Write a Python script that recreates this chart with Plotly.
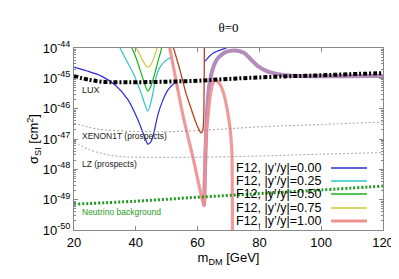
import plotly.graph_objects as go

# ---------------- data (m_DM in GeV, log10 sigma_SI in cm^2) ----------------
lux_m = [20, 25, 30, 35, 40, 50, 60, 70, 80, 90, 100, 110, 120]
lux_s = [-44.93, -45.05, -45.12, -45.13, -45.13, -45.11, -45.08, -45.02, -44.97, -44.93, -44.9, -44.86, -44.83]

x1t_m = [20, 25, 30, 40, 50, 60, 70, 80, 100, 120]
x1t_s = [-46.47, -46.62, -46.7, -46.75, -46.76, -46.72, -46.66, -46.6, -46.52, -46.44]

lz_m = [20, 25, 30, 35, 40, 60, 80, 100, 120]
lz_s = [-47.1, -47.35, -47.5, -47.58, -47.6, -47.6, -47.56, -47.5, -47.45]

nu_m = [20, 40, 60, 80, 100, 120]
nu_s = [-49.15, -49.05, -48.92, -48.8, -48.68, -48.55]

blue_m = [20, 24, 28.7, 33.3, 37.5, 40.7, 43.0, 43.9, 44.8, 45.6, 47.2, 48.8, 50.4, 52.0, 53.0, 53.6,
          None, 62.4, 65.0, 69.2, 71.0]
blue_s = [-44.63, -44.75, -44.92, -45.22, -45.71, -46.37, -46.97, -47.17, -47.1, -46.9, -46.18, -45.71, -45.38, -45.2, -45.15, -45.36,
          None, -44.43, -44.17, -44.0, -43.93]

cyan_m = [34.6, 34.9, 39.1, 41.7, 43.9, 45.2, 46.2, 47.2, 48.8, 50.4, 51.4, 52.2]
cyan_s = [-43.9, -44.0, -44.82, -45.48, -46.08, -45.65, -45.15, -44.76, -44.5, -44.36, -44.33, -44.62]

green_m = [38.2, 38.4, 40.1, 41.7, 43.0, 43.9, 44.9, 46.2, 47.2, 48.2, 48.5]
green_s = [-43.9, -43.93, -44.33, -44.82, -45.22, -45.42, -45.25, -44.82, -44.43, -44.07, -43.9]

yellow_m = [39.6, 41.0, 42.3, 43.3, 43.9, 44.6, 45.6, 46.5, 47.2]
yellow_s = [-43.9, -44.16, -44.43, -44.59, -44.63, -44.59, -44.4, -44.13, -43.9]

brown_m = [52.0, 54.3, 56.2, 57.9, 59.5, 60.5, 61.1, 61.7, 62.0, 62.2]
brown_s = [-43.93, -44.73, -45.48, -46.0, -46.47, -46.7, -46.8, -46.72, -46.2, -43.7]

mauve_m = [62.1, 62.4, 62.7, 63.0, 63.7, 65.0, 66.6, 69.2, 72.1, 75.0, 77.3, 79.5, 82.8, 88.3, 95.7, 106.4, 120]
mauve_s = [-49.2, -48.0, -47.0, -46.2, -45.3, -44.66, -44.33, -44.13, -44.08, -44.16, -44.38, -44.6, -44.78, -44.9, -44.93, -44.93, -44.92]

pink_m = [50.8, 55.3, 58.7, 62.1, 62.4, 63.0, 63.4, 64.0, 64.7, 65.6, 67.2, 68.5, 69.5, 70.5, 71.1, 71.3]
pink_s = [-43.9, -46.24, -47.7, -49.2, -47.6, -46.6, -46.24, -45.65, -45.25, -45.02, -45.19, -45.52, -45.98, -46.64, -47.46, -50.5]

legend_labels = ["F12, |y’/y|=0.00", "F12, |y’/y|=0.25", "F12, |y’/y|=0.50",
                 "F12, |y’/y|=0.75", "F12, |y’/y|=1.00"]
legend_colors = ["#2a2ad8", "#30c4c4", "#18b018", "#c8c830", "#f09090"]

y_tick_vals = [-50, -49, -48, -47, -46, -45, -44]
y_tick_text = ["10<sup>-50</sup>", "10<sup>-49</sup>", "10<sup>-48</sup>", "10<sup>-47</sup>",
               "10<sup>-46</sup>", "10<sup>-45</sup>", "10<sup>-44</sup>"]
x_tick_vals = [20, 40, 60, 80, 100, 120]

# ---------------- figure ----------------
fig = go.Figure()

def add(xs, ys, color, width, dash="solid", opacity=1.0, smooth=0.0):
    fig.add_trace(go.Scatter(
        x=xs, y=[None if v is None else 10 ** v for v in ys], mode="lines",
        line=dict(color=color, width=width, dash=dash,
                  shape="spline" if smooth else "linear", smoothing=smooth if smooth else None),
        opacity=opacity, showlegend=False, hoverinfo="skip", connectgaps=False))

add(blue_m, blue_s, legend_colors[0], 1.2, smooth=0.8)
add(cyan_m, cyan_s, legend_colors[1], 1.2, smooth=0.8)
add(green_m, green_s, legend_colors[2], 1.2, smooth=0.8)
add(yellow_m, yellow_s, legend_colors[3], 1.2, smooth=0.8)
add(brown_m, brown_s, "#b8401c", 1.3, smooth=0.6)
add(mauve_m, mauve_s, "#b48cbc", 4, smooth=0.6)
add(pink_m, pink_s, legend_colors[4], 3.2, opacity=0.9, smooth=0.5)

add(x1t_m, x1t_s, "#8a8a8a", 0.8, dash="2px,2px", smooth=1.0)
add(lz_m, lz_s, "#8a8a8a", 0.8, dash="2px,2px", smooth=1.0)
add(nu_m, nu_s, "#1f9a1f", 3, dash="2px,2px", smooth=1.0)
add(lux_m, lux_s, "#000000", 4, dash="4px,2px,2px,2px", smooth=1.0)

# custom gnuplot-style legend (text, then sample line on the right)
leg_y = [0.341, 0.269, 0.198, 0.121, 0.049]
shapes = []
annotations = []
for lab, col, yy in zip(legend_labels, legend_colors, leg_y):
    annotations.append(dict(x=0.806, y=yy, xref="paper", yref="paper", text=lab,
                            showarrow=False, xanchor="right", yanchor="middle",
                            font=dict(size=12.5, color="black")))
    shapes.append(dict(type="line", xref="paper", yref="paper", x0=0.832, x1=0.948,
                       y0=yy, y1=yy, line=dict(color=col, width=3 if col == legend_colors[4] else 1.5)))

# curve labels
annotations += [
    dict(x=22, y=-45.38, xref="x", yref="y", text="LUX", showarrow=False, xanchor="left",
         font=dict(size=9, color="#222")),
    dict(x=22, y=-46.9, xref="x", yref="y", text="XENON1T (prospects)", showarrow=False,
         xanchor="left", font=dict(size=8.5, color="#222")),
    dict(x=22, y=-47.83, xref="x", yref="y", text="LZ (prospects)", showarrow=False,
         xanchor="left", font=dict(size=8.5, color="#222")),
    dict(x=22, y=-49.4, xref="x", yref="y", text="Neutrino background", showarrow=False,
         xanchor="left", font=dict(size=8.5, color="#1f9a1f")),
]

fig.update_layout(
    width=399, height=279,
    margin=dict(l=66, r=24, t=40, b=57),
    paper_bgcolor="white", plot_bgcolor="white",
    font=dict(family="Liberation Sans, Arial, sans-serif", size=13, color="black"),
    title=dict(text="θ=0", x=0.5, xref="paper", xanchor="center", y=0.93, yanchor="middle",
               font=dict(family="Liberation Serif, serif", size=13)),
    showlegend=False,
    shapes=shapes,
    annotations=annotations,
)
fig.update_xaxes(range=[20, 120], tickvals=x_tick_vals, ticks="inside", ticklen=4,
                 tickcolor="#888",
                 showline=True, linecolor="#888", linewidth=1, mirror="ticks",
                 showgrid=False, zeroline=False, tickfont=dict(size=13),
                 title=dict(text="m<sub>DM</sub> [GeV]", standoff=4, font=dict(size=13)))
fig.update_yaxes(type="log", range=[-50, -44], tickvals=[10 ** v for v in y_tick_vals],
                 ticktext=y_tick_text, ticks="inside", ticklen=4, tickcolor="#888",
                 showline=True, linecolor="#888", linewidth=1, mirror="ticks",
                 showgrid=False, zeroline=False, tickfont=dict(size=13),
                 title=dict(text="σ<sub>SI</sub> [cm<sup>2</sup>]", standoff=0, font=dict(size=13)),
                 minor=dict(ticks="inside", ticklen=2, dtick="D1", tickcolor="#888"))

fig.write_html("out.html")
